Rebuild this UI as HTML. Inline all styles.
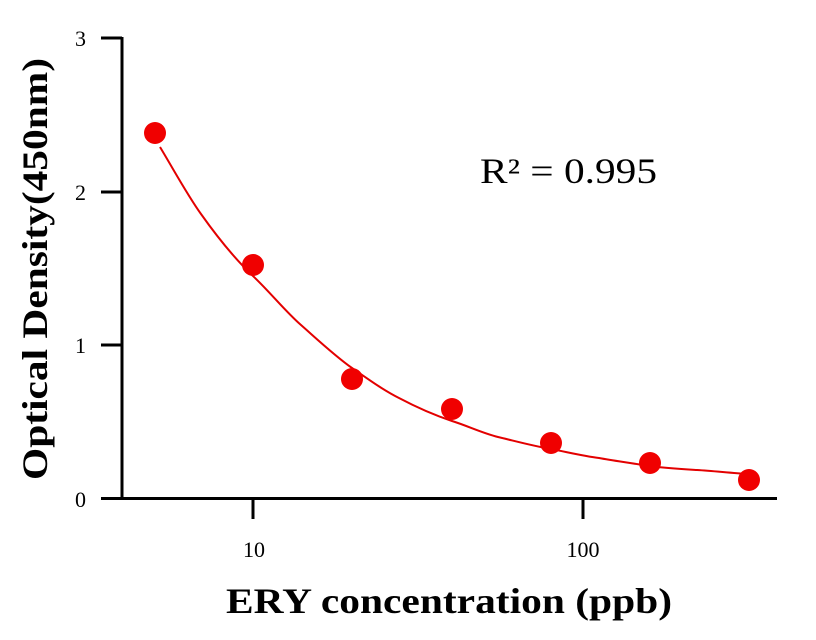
<!DOCTYPE html>
<html><head><meta charset="utf-8"><style>
html,body{margin:0;padding:0;background:#fff;}
svg{display:block;}
text{font-family:"Liberation Serif",serif;fill:#000;}
</style></head><body>
<svg width="816" height="640" viewBox="0 0 816 640" xmlns="http://www.w3.org/2000/svg">
<g stroke="#000" stroke-width="3" fill="none">
<line x1="122" y1="37" x2="122" y2="500"/>
<line x1="101" y1="498.5" x2="777" y2="498.5"/>
<line x1="101" y1="38" x2="122" y2="38"/>
<line x1="101" y1="192" x2="122" y2="192"/>
<line x1="101" y1="345" x2="122" y2="345"/>
<line x1="253" y1="498" x2="253" y2="519"/>
<line x1="583" y1="498" x2="583" y2="519"/>
</g>
<g font-size="22" text-anchor="end">
<text x="86" y="46">3</text>
<text x="86" y="200">2</text>
<text x="86" y="353">1</text>
<text x="86" y="507">0</text>
</g>
<g font-size="22" text-anchor="middle">
<text x="254" y="557">10</text>
<text x="583" y="557">100</text>
</g>
<text x="226" y="613" font-size="36" font-weight="bold" textLength="446" lengthAdjust="spacingAndGlyphs">ERY concentration (ppb)</text>
<text transform="translate(47,480) rotate(-90)" font-size="36" font-weight="bold" textLength="422" lengthAdjust="spacingAndGlyphs">Optical Density(450nm)</text>
<text x="480" y="183" font-size="36" textLength="177" lengthAdjust="spacingAndGlyphs">R² = 0.995</text>
<path d="M160,147 C175,172 188,196 201,214 C218,238 235,259 253,276 C270,292 285,311 301,325 C318,340 335,356 352,368 C368,379 383,390 399,398 C416,407 434,415 452,421 C468,426 482,433 498,437 C515,441 533,446 551,449 C567,452 583,456 599,458 C615,461 632,463 648,466 C664,468 681,469 697,470 C714,471 731,473 748,474" stroke="#e30000" stroke-width="2" fill="none"/>
<g fill="#f00000">
<circle cx="155" cy="133" r="11"/>
<circle cx="253" cy="265" r="11"/>
<circle cx="352" cy="379" r="11"/>
<circle cx="452" cy="409" r="11"/>
<circle cx="551" cy="443" r="11"/>
<circle cx="650" cy="463" r="11"/>
<circle cx="749" cy="480" r="11"/>
</g>
</svg>
</body></html>
